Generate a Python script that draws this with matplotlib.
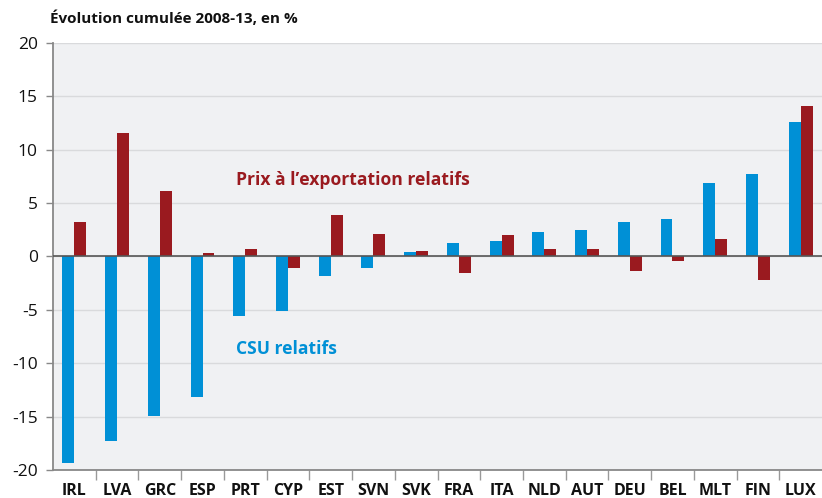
import numpy as np
import matplotlib
matplotlib.use("Agg")
import matplotlib.pyplot as plt
from matplotlib.ticker import FixedLocator

categories = ["IRL", "LVA", "GRC", "ESP", "PRT", "CYP", "EST", "SVN", "SVK",
              "FRA", "ITA", "NLD", "AUT", "DEU", "BEL", "MLT", "FIN", "LUX"]
csu_relatifs = [-19.3, -17.3, -14.9, -13.15, -5.55, -5.15, -1.8, -1.05, 0.44,
                1.25, 1.47, 2.28, 2.5, 3.22, 3.5, 6.88, 7.69, 12.6]
prix_export_relatifs = [3.2, 11.57, 6.15, 0.3, 0.72, -1.06, 3.88, 2.1, 0.56,
                        -1.5, 2.0, 0.66, 0.69, -1.37, -0.4, 1.66, -2.2, 14.13]
yticks = [-20, -15, -10, -5, 0, 5, 10, 15, 20]

BLUE = "#0090D6"
RED = "#9A1A1F"
BG = "#F0F1F3"

plt.rcParams['font.family'] = ['Open Sans', 'DejaVu Sans']

fig = plt.figure(figsize=(8.22, 4.98), dpi=100)
ax = fig.add_axes([53/822, 1-470/498, (822-53)/822, (470-43)/498])
ax.set_facecolor(BG)

x = np.arange(len(categories))
w = 0.28
ax.bar(x - w/2, csu_relatifs, width=w, color=BLUE, linewidth=0, zorder=3)
ax.bar(x + w/2, prix_export_relatifs, width=w, color=RED, linewidth=0, zorder=3)

ax.set_xlim(-0.5, len(categories) - 0.5)
ax.set_ylim(-20, 20)
ax.set_yticks(yticks)
ax.set_yticklabels([str(t) for t in yticks], fontsize=12.5, color="#111111")
ax.set_xticks(x)
ax.set_xticklabels(categories, fontsize=11.5, fontweight="bold", color="#111111")
ax.xaxis.set_minor_locator(FixedLocator(np.arange(0.5, len(categories) - 1, 1.0)))
ax.tick_params(axis="x", which="major", length=0, pad=9)
ax.tick_params(axis="x", which="minor", length=7, color="#999999", width=1)
ax.tick_params(axis="y", which="major", length=5, color="#888888", width=1, pad=6)

ax.grid(axis="y", color="#D9DADC", linewidth=1, zorder=0)
ax.set_axisbelow(True)
ax.axhline(0, color="#555555", linewidth=1.2, zorder=4)

for s in ["top", "right"]:
    ax.spines[s].set_visible(False)
for s in ["left", "bottom"]:
    ax.spines[s].set_color("#888888")
    ax.spines[s].set_linewidth(1.3)

ax.text(3.78, 7.2, "Prix à l’exportation relatifs", color=RED, fontsize=12.6,
        fontweight="bold", ha="left", va="center")
ax.text(3.78, -8.7, "CSU relatifs", color=BLUE, fontsize=12.6,
        fontweight="bold", ha="left", va="center")

fig.text(50/822, 1-18/498, "Évolution cumulée 2008-13, en %", fontsize=11,
         fontweight="bold", ha="left", va="center", color="#111111")

fig.savefig("out.png", dpi=100)
